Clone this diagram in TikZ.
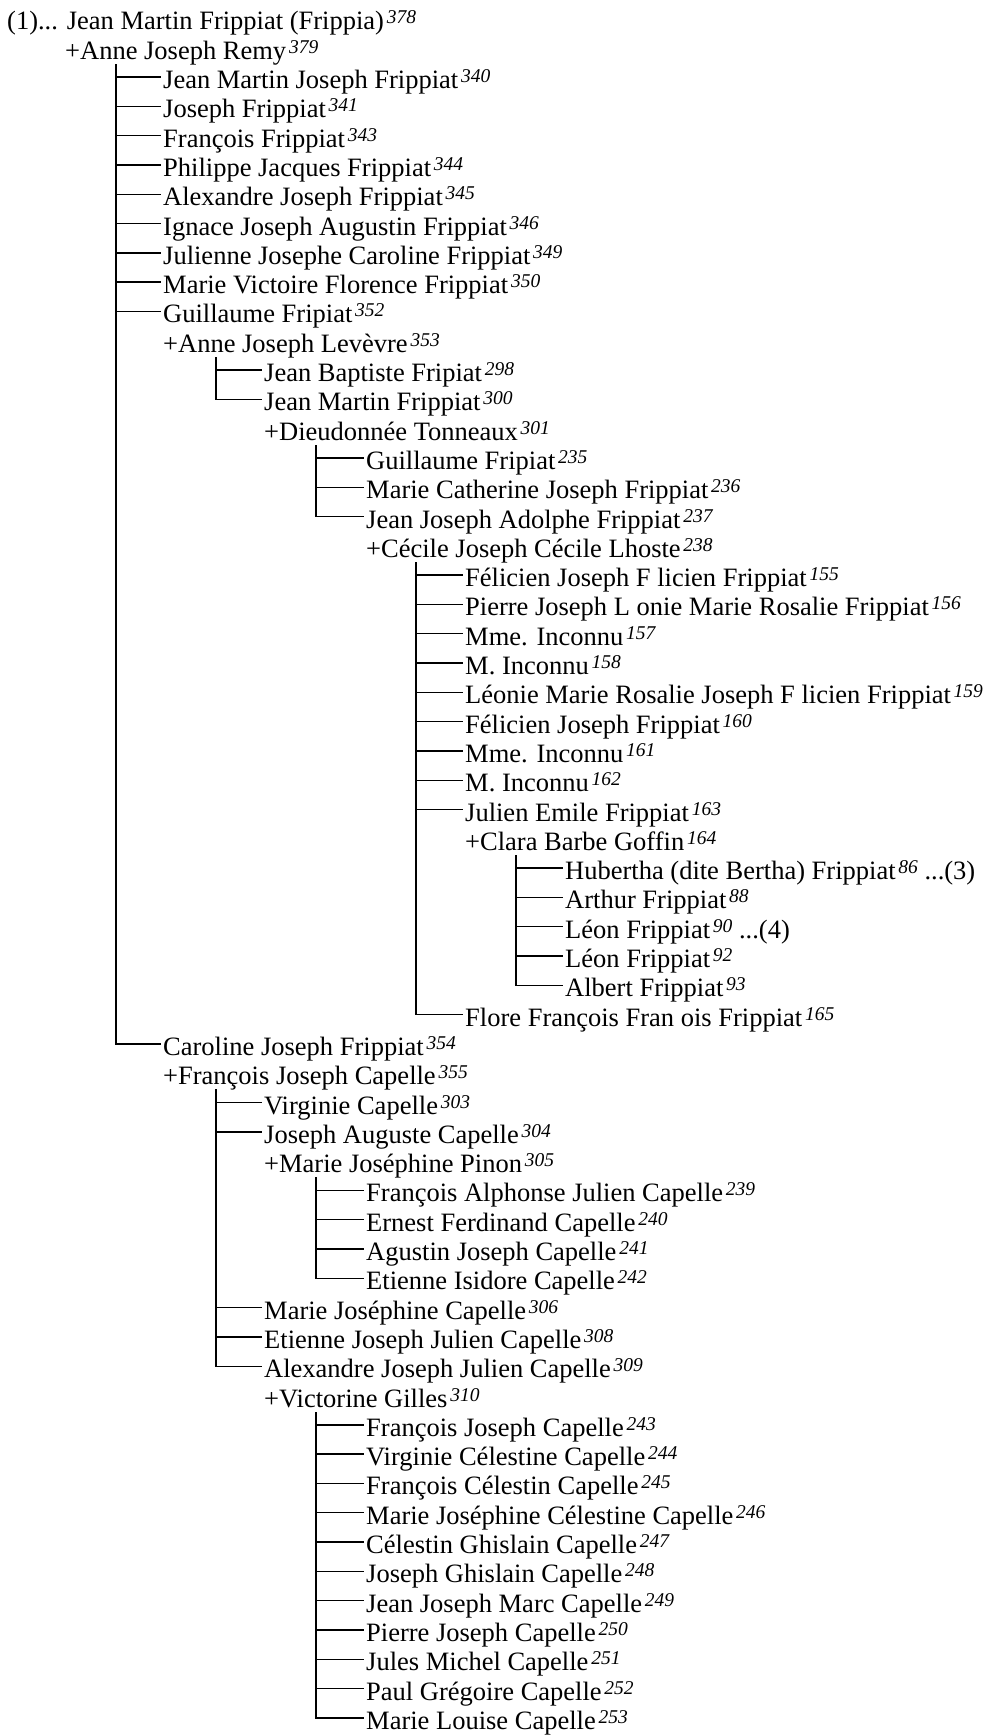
\documentclass[tikz,border=0pt]{standalone}
\usepackage{fontspec}
\setmainfont{Liberation Serif}
\newcommand\gsup[1]{\kern2.8pt\raisebox{6pt}{\fontsize{19.5}{20}\selectfont\itshape #1}}
\tikzset{
  person/.style={anchor=base west, inner xsep=3pt, inner ysep=0pt,
    text height=28pt, text depth=5pt, font=\fontsize{26.5}{30}\selectfont},
  conn/.style={line width=1.4pt, line cap=rect}
}
% \prow{name}{x}{row}{text}{sup}
\newcommand\prow[5]{\node[person] (#1) at ({#2},{29.9+29.3*(#3-1)}) {#4\gsup{#5}};}
\begin{document}
\begin{tikzpicture}[x=1pt,y=-1pt]
\useasboundingbox (0,0) rectangle (986,1735);
\def\Lz{62}\def\La{160}\def\Lb{261}\def\Lc{363}\def\Ld{462}\def\Le{562}
\coordinate (v1) at (116,0);
\coordinate (v2) at (216,0);
\coordinate (v3) at (316,0);
\coordinate (v4) at (416,0);
\coordinate (v5) at (516,0);
\prow{r1}{4}{1}{(1)... Jean Martin Frippiat (Frippia)}{378}
\prow{r2}{\Lz}{2}{+Anne Joseph Remy}{379}
\prow{r3}{\La}{3}{Jean Martin Joseph Frippiat}{340}
\prow{r4}{\La}{4}{Joseph Frippiat}{341}
\prow{r5}{\La}{5}{François Frippiat}{343}
\prow{r6}{\La}{6}{Philippe Jacques Frippiat}{344}
\prow{r7}{\La}{7}{Alexandre Joseph Frippiat}{345}
\prow{r8}{\La}{8}{Ignace Joseph Augustin Frippiat}{346}
\prow{r9}{\La}{9}{Julienne Josephe Caroline Frippiat}{349}
\prow{r10}{\La}{10}{Marie Victoire Florence Frippiat}{350}
\prow{r11}{\La}{11}{Guillaume Fripiat}{352}
\prow{r12}{\La}{12}{+Anne Joseph Levèvre}{353}
\prow{r13}{\Lb}{13}{Jean Baptiste Fripiat}{298}
\prow{r14}{\Lb}{14}{Jean Martin Frippiat}{300}
\prow{r15}{\Lb}{15}{+Dieudonnée Tonneaux}{301}
\prow{r16}{\Lc}{16}{Guillaume Fripiat}{235}
\prow{r17}{\Lc}{17}{Marie Catherine Joseph Frippiat}{236}
\prow{r18}{\Lc}{18}{Jean Joseph Adolphe Frippiat}{237}
\prow{r19}{\Lc}{19}{+Cécile Joseph Cécile Lhoste}{238}
\prow{r20}{\Ld}{20}{Félicien Joseph F licien Frippiat}{155}
\prow{r21}{\Ld}{21}{Pierre Joseph L onie Marie Rosalie Frippiat}{156}
\prow{r22}{\Ld}{22}{Mme. Inconnu}{157}
\prow{r23}{\Ld}{23}{M. Inconnu}{158}
\prow{r24}{\Ld}{24}{Léonie Marie Rosalie Joseph F licien Frippiat}{159}
\prow{r25}{\Ld}{25}{Félicien Joseph Frippiat}{160}
\prow{r26}{\Ld}{26}{Mme. Inconnu}{161}
\prow{r27}{\Ld}{27}{M. Inconnu}{162}
\prow{r28}{\Ld}{28}{Julien Emile Frippiat}{163}
\prow{r29}{\Ld}{29}{+Clara Barbe Goffin}{164}
\node[person] (r30) at (\Le,{29.9+29.3*29}) {Hubertha (dite Bertha) Frippiat\gsup{86} ...(3)};
\prow{r31}{\Le}{31}{Arthur Frippiat}{88}
\node[person] (r32) at (\Le,{29.9+29.3*31}) {Léon Frippiat\gsup{90} ...(4)};
\prow{r33}{\Le}{33}{Léon Frippiat}{92}
\prow{r34}{\Le}{34}{Albert Frippiat}{93}
\prow{r35}{\Ld}{35}{Flore François Fran ois Frippiat}{165}
\prow{r36}{\La}{36}{Caroline Joseph Frippiat}{354}
\prow{r37}{\La}{37}{+François Joseph Capelle}{355}
\prow{r38}{\Lb}{38}{Virginie Capelle}{303}
\prow{r39}{\Lb}{39}{Joseph Auguste Capelle}{304}
\prow{r40}{\Lb}{40}{+Marie Joséphine Pinon}{305}
\prow{r41}{\Lc}{41}{François Alphonse Julien Capelle}{239}
\prow{r42}{\Lc}{42}{Ernest Ferdinand Capelle}{240}
\prow{r43}{\Lc}{43}{Agustin Joseph Capelle}{241}
\prow{r44}{\Lc}{44}{Etienne Isidore Capelle}{242}
\prow{r45}{\Lb}{45}{Marie Joséphine Capelle}{306}
\prow{r46}{\Lb}{46}{Etienne Joseph Julien Capelle}{308}
\prow{r47}{\Lb}{47}{Alexandre Joseph Julien Capelle}{309}
\prow{r48}{\Lb}{48}{+Victorine Gilles}{310}
\prow{r49}{\Lc}{49}{François Joseph Capelle}{243}
\prow{r50}{\Lc}{50}{Virginie Célestine Capelle}{244}
\prow{r51}{\Lc}{51}{François Célestin Capelle}{245}
\prow{r52}{\Lc}{52}{Marie Joséphine Célestine Capelle}{246}
\prow{r53}{\Lc}{53}{Célestin Ghislain Capelle}{247}
\prow{r54}{\Lc}{54}{Joseph Ghislain Capelle}{248}
\prow{r55}{\Lc}{55}{Jean Joseph Marc Capelle}{249}
\prow{r56}{\Lc}{56}{Pierre Joseph Capelle}{250}
\prow{r57}{\Lc}{57}{Jules Michel Capelle}{251}
\prow{r58}{\Lc}{58}{Paul Grégoire Capelle}{252}
\prow{r59}{\Lc}{59}{Marie Louise Capelle}{253}
% connectors
\foreach \c in {r3,r4,r5,r6,r7,r8,r9,r10,r11,r36}
  \draw[conn] (r2.south -| v1) |- (\c.west);
\foreach \c in {r13,r14}
  \draw[conn] (r12.south -| v2) |- (\c.west);
\foreach \c in {r16,r17,r18}
  \draw[conn] (r15.south -| v3) |- (\c.west);
\foreach \c in {r20,r21,r22,r23,r24,r25,r26,r27,r28,r35}
  \draw[conn] (r19.south -| v4) |- (\c.west);
\foreach \c in {r30,r31,r32,r33,r34}
  \draw[conn] (r29.south -| v5) |- (\c.west);
\foreach \c in {r38,r39,r45,r46,r47}
  \draw[conn] (r37.south -| v2) |- (\c.west);
\foreach \c in {r41,r42,r43,r44}
  \draw[conn] (r40.south -| v3) |- (\c.west);
\foreach \c in {r49,r50,r51,r52,r53,r54,r55,r56,r57,r58,r59}
  \draw[conn] (r48.south -| v3) |- (\c.west);
\end{tikzpicture}
\end{document}
